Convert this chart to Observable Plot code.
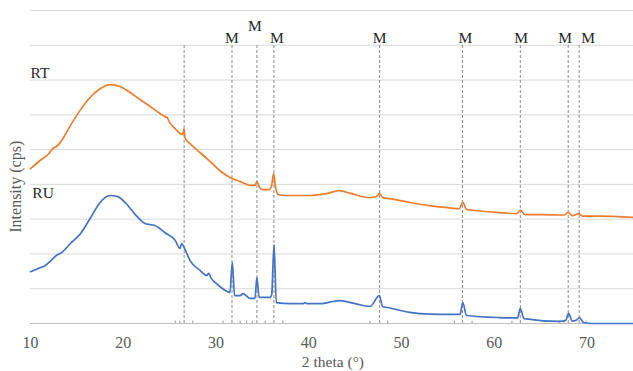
<!DOCTYPE html>
<html>
<head>
<meta charset="utf-8">
<script src="https://cdn.jsdelivr.net/npm/d3@7"></script>
<script src="https://cdn.jsdelivr.net/npm/@observablehq/plot@0.6"></script>
<style>
  html, body { margin: 0; padding: 0; background: #fff; }
  #chart { width: 633px; height: 371px; }
  #chart svg, #chart svg text { font-family: 'Liberation Serif', 'Times New Roman', serif !important; }
</style>
</head>
<body>
<div id="chart"></div>
<script>
// RT (orange) pattern: [2theta, intensity]
const rtData = [
  [10.0,4.45],[11.0,4.68],[12.0,4.89],[12.4,5.03],[12.8,5.09],[13.2,5.20],[14.3,5.69],
  [15.4,6.15],[16.5,6.52],[17.5,6.75],[18.6,6.87],[19.7,6.81],[20.75,6.64],[21.8,6.44],
  [22.9,6.24],[24.0,6.03],[24.5,5.95],[24.75,5.92],[24.9,5.83],[25.6,5.60],[26.4,5.43],
  [26.55,5.60],[26.65,5.34],[27.2,5.17],[28.3,4.91],[29.35,4.66],[30.4,4.40],[31.5,4.20],
  [32.6,4.08],[33.7,3.97],[34.2,3.97],[34.4,4.08],[34.7,3.91],[35.0,3.85],[35.7,3.85],
  [36.0,3.97],[36.2,4.31],[36.4,3.94],[36.7,3.71],[37.5,3.68],[40.1,3.68],[42.0,3.74],
  [43.3,3.82],[44.5,3.74],[46.6,3.62],[47.3,3.65],[47.6,3.74],[48.0,3.62],[48.7,3.59],
  [50.9,3.48],[53.0,3.39],[55.0,3.33],[56.2,3.30],[56.6,3.48],[57.0,3.28],[58.0,3.25],
  [60.5,3.19],[62.4,3.16],[62.8,3.25],[63.3,3.13],[65.0,3.13],[67.6,3.12],[67.95,3.20],
  [68.4,3.10],[69.1,3.16],[69.5,3.09],[71.3,3.09],[75.0,3.05]
];
// RU (blue) pattern: [2theta, intensity]
const ruData = [
  [10.0,1.49],[11.1,1.61],[11.6,1.67],[12.2,1.81],[12.9,1.98],[13.2,2.01],[14.3,2.30],
  [15.4,2.59],[16.5,3.05],[17.5,3.48],[18.6,3.68],[19.4,3.65],[20.3,3.45],[21.4,3.10],
  [22.4,2.87],[23.4,2.82],[24.5,2.61],[25.6,2.39],[26.1,2.16],[26.3,2.30],[26.6,2.16],
  [27.2,1.81],[28.3,1.52],[29.0,1.38],[29.2,1.44],[29.5,1.29],[29.9,1.18],[31.0,0.95],
  [31.5,0.89],[31.75,1.75],[32.0,0.80],[32.6,0.80],[32.9,0.86],[33.7,0.72],[34.2,0.72],
  [34.4,1.32],[34.65,0.75],[35.8,0.75],[36.0,0.83],[36.25,2.27],[36.5,0.60],[37.95,0.57],
  [39.4,0.57],[39.6,0.60],[39.8,0.57],[41.2,0.57],[43.3,0.66],[45.0,0.57],[46.6,0.49],
  [47.6,0.80],[47.95,0.49],[48.5,0.46],[50.9,0.32],[53.0,0.27],[55.2,0.26],[56.3,0.26],
  [56.6,0.60],[57.0,0.23],[60.5,0.17],[62.5,0.16],[62.8,0.43],[63.2,0.14],[67.0,0.06],
  [67.7,0.09],[68.0,0.29],[68.4,0.07],[68.8,0.09],[69.2,0.17],[69.6,0.03],[70.5,0.0],
  [75.0,0.0]
];
// reference peak positions (dashed lines)
const peakLines = [26.56, 31.72, 34.41, 36.24, 47.63, 56.56, 62.8, 67.96, 69.14];
// "M" label positions
const mLabelX = [31.72, 34.19, 36.56, 47.63, 56.88, 62.9, 67.63, 70.11];
const mLabelY = [8.2, 8.56, 8.2, 8.2, 8.2, 8.2, 8.2, 8.2];
// small reference sticks on the baseline
const sticks = [25.6, 26.1, 27.5, 30.75, 32.6, 33.3, 33.9, 35.3, 37.2, 46.6, 48.5, 55.7, 57.6, 61.9, 67.0, 67.5, 69.9];
const xTicks = [10, 20, 30, 40, 50, 60, 70];
const yGrid = [0, 1, 2, 3, 4, 5, 6, 7, 8, 9];
const seriesLabels = [{name: "RT", x: 10, y: 7.21}, {name: "RU", x: 10.2, y: 3.74}];
const xTitle = "2 theta (°)";
const yTitle = "Intensity (cps)";

const mLabels = mLabelX.map((x, i) => ({x, y: mLabelY[i], t: "M"}));
const rt = rtData.map(([x, y]) => ({x, y}));
const ru = ruData.map(([x, y]) => ({x, y}));

const chart = Plot.plot({
  width: 633,
  height: 371,
  marginLeft: 30,
  marginRight: 0,
  marginTop: 10,
  marginBottom: 48,
  style: {background: "#fff"},
  x: {domain: [10, 75]},
  y: {domain: [0, 9]},
  marks: [
    Plot.gridY(yGrid, {stroke: "#d9d9d9", strokeOpacity: 1, strokeWidth: 1}),
    Plot.ruleY([0], {stroke: "#bfbfbf", strokeWidth: 1}),
    Plot.ruleX(sticks, {y1: 0, y2: 0.07, stroke: "#999", strokeWidth: 1}),
    Plot.ruleX(peakLines, {y1: 0, y2: 8, stroke: "#8c8c8c", strokeWidth: 1, strokeDasharray: "3,2"}),
    Plot.line(rt, {x: "x", y: "y", stroke: "#ED7D31", strokeWidth: 1.7, curve: "monotone-x"}),
    Plot.line(ru, {x: "x", y: "y", stroke: "#4472C4", strokeWidth: 1.7, curve: "monotone-x"}),
    Plot.text(mLabels, {x: "x", y: "y", text: "t", fontSize: 15.5, fill: "#262626"}),
    Plot.text(seriesLabels, {x: "x", y: "y", text: "name", fontSize: 15.5, fill: "#262626", textAnchor: "start"}),
    Plot.axisX(xTicks, {tickSize: 0, tickPadding: 13, fontSize: 16, fill: "#595959", label: null}),
    Plot.axisY({ticks: [], label: null}),
    Plot.text([xTitle], {x: 42.6, y: -1.12, fontSize: 15.5, fill: "#595959", textAnchor: "middle", clip: false}),
    Plot.text([yTitle], {x: 8.38, y: 2.61, rotate: -90, fontSize: 16, fill: "#595959", textAnchor: "start", clip: false})
  ]
});
document.getElementById("chart").appendChild(chart);
</script>
</body>
</html>
